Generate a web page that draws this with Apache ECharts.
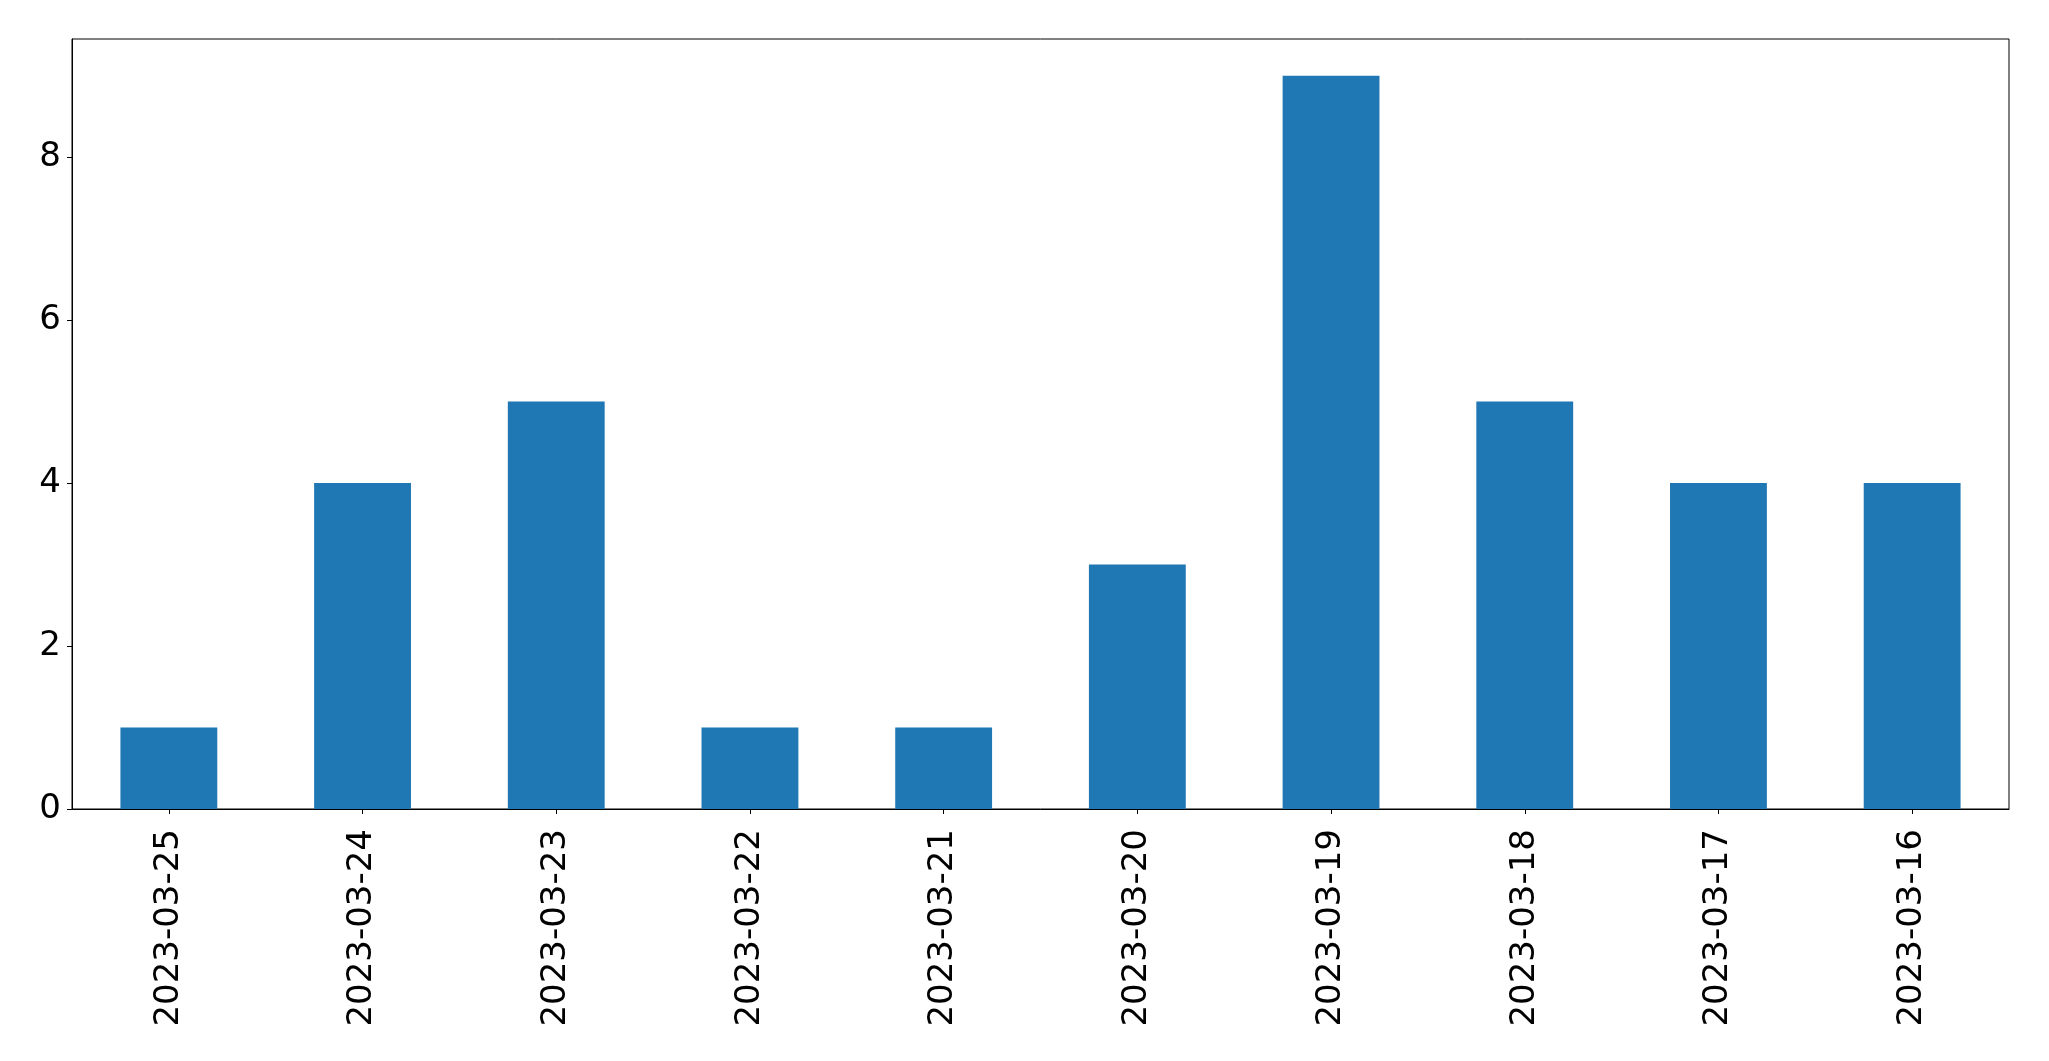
<!DOCTYPE html>
<html>
<head>
<meta charset="utf-8">
<script src="https://cdn.jsdelivr.net/npm/echarts@6/dist/echarts.min.js"></script>
<style>
html,body{margin:0;padding:0;background:#fff;}
#chart{width:2049px;height:1061px;}
</style>
</head>
<body>
<div id="chart"></div>
<script>
const categories = ['2023-03-25','2023-03-24','2023-03-23','2023-03-22','2023-03-21','2023-03-20','2023-03-19','2023-03-18','2023-03-17','2023-03-16'];
const values = [1,4,5,1,1,3,9,5,4,4];
const yTicks = [0,2,4,6,8];

const chart = echarts.init(document.getElementById('chart'), null, {renderer:'canvas'});
const font = 'DejaVu Sans';
chart.setOption({
  animation: false,
  backgroundColor: '#ffffff',
  grid: {left: 72, right: 40, top: 39, bottom: 252, show: true, borderColor: '#000', borderWidth: 1, containLabel: false},
  xAxis: {
    type: 'category',
    data: categories,
    axisLine: {show: true, lineStyle: {color: '#000', width: 1}},
    axisTick: {show: true, alignWithLabel: true, length: 5, lineStyle: {color: '#000'}},
    axisLabel: {rotate: 90, margin: 20, color: '#000', fontSize: 34, fontFamily: font, interval: 0}
  },
  yAxis: {
    type: 'value',
    min: 0, max: 9.45, interval: 2,
    axisLine: {show: true, lineStyle: {color: '#000', width: 1}},
    axisTick: {show: true, length: 5, lineStyle: {color: '#000'}, customValues: yTicks},
    splitLine: {show: false},
    axisLabel: {margin: 11, color: '#000', fontSize: 34, fontFamily: font, customValues: yTicks,
      padding: [8, 0, 0, 0],
      formatter: v => yTicks.includes(v) ? String(v) : ''}
  },
  series: [{
    type: 'bar',
    data: values,
    barWidth: '50%',
    itemStyle: {color: '#1f77b4'}
  }]
});
</script>
</body>
</html>
